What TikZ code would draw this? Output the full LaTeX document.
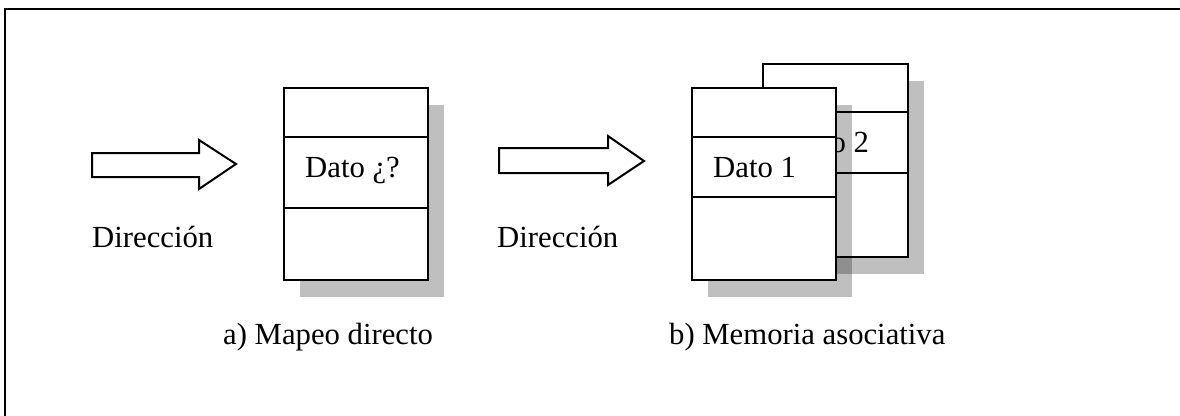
\documentclass[tikz,border=0pt]{standalone}
\usepackage{fontspec}
\setmainfont{Liberation Serif}
\begin{document}
\begin{tikzpicture}[x=1pt,y=-1pt,
  frame/.style={line width=2.6pt, line cap=rect},
  block/.style={draw, line width=2pt, fill=white, rectangle, inner sep=0pt,
                minimum width=144pt, minimum height=192pt},
  divider/.style={line width=2pt},
  shade/.style={fill=black, fill opacity=0.25},
  bigarrow/.style={draw, line width=2pt, fill=white, line join=miter},
  txt/.style={anchor=base west, inner sep=0pt, font=\fontsize{30.7}{36}\selectfont}]

\useasboundingbox[fill=white] (0,0) rectangle (1180,415);

% outer frame (top and left edges)
\draw[frame] (5,415) -- (5,9) -- (1180,9);

% ---- a) direct mapping ----
\draw[bigarrow] (92,153) -- (199,153) -- (199,140) -- (236,164)
  -- (199,189) -- (199,177) -- (92,177) -- cycle;
\node[txt] (dirA) at (92,247) {Dirección};

\coordinate (blkAc) at (356,184);
\fill[shade] ([shift={(16,17)}]blkAc) +(-72,-96) rectangle +(72,96);
\node[block] (blkA) at (blkAc) {};
\draw[divider] (blkA.west |- 0,137) -- (blkA.east |- 0,137);
\draw[divider] (blkA.west |- 0,208) -- (blkA.east |- 0,208);
\node[txt] (datoA) at (305,177) {Dato ¿?};
\node[txt] (capA) at (223,344) {a) Mapeo directo};

% ---- b) associative memory ----
\draw[bigarrow] (499,148) -- (608,148) -- (608,136) -- (644,161)
  -- (608,185) -- (608,173) -- (499,173) -- cycle;
\node[txt] (dirB) at (497,247) {Dirección};

% back block
\coordinate (blkCc) at (835.5,160.5);
\fill[shade] ([shift={(16,17)}]blkCc) +(-72.5,-96.5) rectangle +(72.5,96.5);
\node[block, minimum width=145pt, minimum height=193pt] (blkC) at (blkCc) {};
\draw[divider] (blkC.west |- 0,112) -- (blkC.east |- 0,112);
\draw[divider] (blkC.west |- 0,173) -- (blkC.east |- 0,173);
\node[txt] (datoC) at (786,152) {Dato 2};

% front block
\coordinate (blkBc) at (764,184);
\fill[shade] ([shift={(16,17)}]blkBc) +(-72,-96) rectangle +(72,96);
\node[block] (blkB) at (blkBc) {};
\draw[divider] (blkB.west |- 0,137) -- (blkB.east |- 0,137);
\draw[divider] (blkB.west |- 0,197) -- (blkB.east |- 0,197);
\node[txt] (datoB) at (713,177) {Dato 1};
\node[txt] (capB) at (669,344) {b) Memoria asociativa};
\end{tikzpicture}
\end{document}
